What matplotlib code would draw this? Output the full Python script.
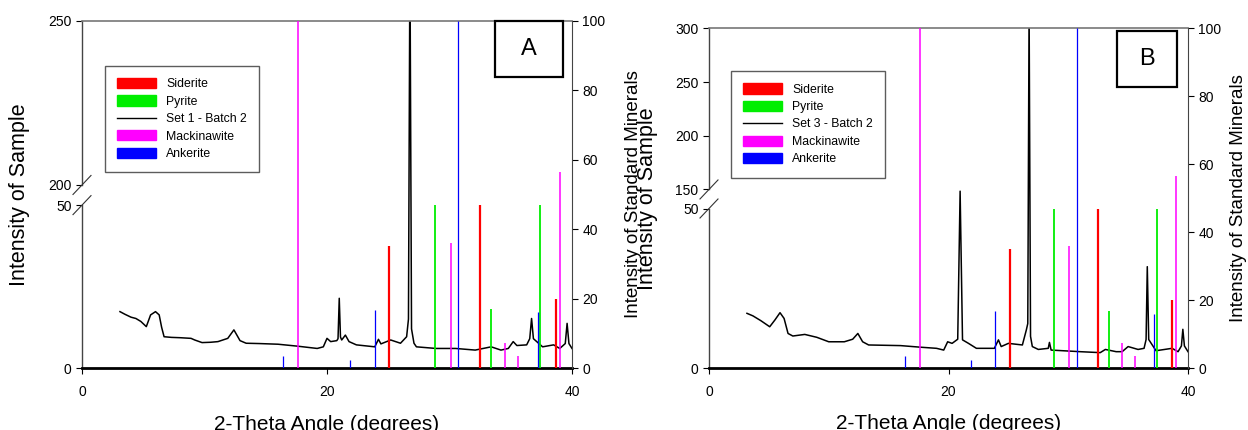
import numpy as np
import matplotlib.pyplot as plt
from matplotlib.patches import Patch, Rectangle
from matplotlib.lines import Line2D

plt.rcParams['font.family'] = ['Liberation Sans', 'DejaVu Sans']

# standard mineral reference peaks (2-theta, relative intensity)
siderite_x = [25.1, 32.5, 38.7]
siderite_y = [35, 47, 20]
pyrite_x = [28.8, 33.4, 37.4]
pyrite_y = [47, 17, 47]
mackinawite_x = [17.6, 30.1, 34.5, 35.6, 39.0]
mackinawite_y = [100, 36, 7.3, 3.5, 56.5]
ankerite_x = [16.4, 21.9, 23.9, 30.7, 37.2]
ankerite_y = [3.5, 2.3, 16.8, 100, 16.1]

# sample A: Set 1 - Batch 2
a_angle = [3.1, 3.5, 4.0, 4.4, 4.8, 5.25, 5.6, 6.0, 6.3, 6.5, 6.7, 7.3, 8.0, 8.9, 9.2,
           9.8, 10.5, 11.1, 11.9, 12.4, 12.9, 13.4, 14.5, 16.0, 17.6, 19.2, 19.7, 20.0,
           20.3, 20.8, 20.9, 21.0, 21.1, 21.2, 21.5, 21.8, 22.4, 23.9, 24.2, 24.4, 25.2,
           26.0, 26.5, 26.65, 26.77, 26.9, 27.1, 27.3, 28.9, 30.5, 32.1, 33.4, 34.2, 34.8,
           35.2, 35.5, 36.3, 36.55, 36.7, 36.85, 37.6, 38.5, 39.0, 39.45, 39.6, 39.75,
           40.0]
a_counts = [17.3, 16.5, 15.6, 15.2, 14.3, 12.7, 16.3, 17.3, 16.3, 12.5, 9.6, 9.4, 9.3,
            9.1, 8.6, 7.8, 7.9, 8.1, 9.1, 11.7, 8.4, 7.6, 7.5, 7.3, 6.7, 6.0, 6.5, 9.1,
            8.1, 8.4, 9.0, 21.4, 9.5, 8.6, 10.1, 8.1, 7.1, 6.5, 8.8, 7.4, 8.6, 7.6, 9.6,
            15, 270, 12, 7.6, 6.5, 6.0, 6.0, 5.5, 6.5, 5.5, 6.0, 8.1, 6.9, 7.1, 9.0, 15.2,
            9.0, 6.5, 7.1, 6.0, 7.5, 13.7, 7.5, 6.0]

# sample B: Set 3 - Batch 2
b_angle = [3.17, 3.67, 4.33, 5.07, 5.5, 5.93, 6.27, 6.6, 7.0, 8.0, 9.0, 10.0, 11.3,
           12.0, 12.43, 12.83, 13.33, 16.0, 17.67, 19.0, 19.6, 19.93, 20.3, 20.77,
           20.97, 21.17, 21.67, 22.33, 23.83, 24.17, 24.4, 25.0, 26.17, 26.5, 26.62,
           26.73, 26.85, 27.0, 27.5, 28.33, 28.43, 28.57, 31.0, 32.67, 33.1, 34.0, 34.5,
           35.0, 35.83, 36.33, 36.5, 36.6, 36.72, 37.33, 38.67, 39.17, 39.45, 39.57,
           39.7, 40.0]
b_counts = [17.2, 16.4, 14.9, 13.0, 15.1, 17.4, 15.6, 10.9, 10.1, 10.6, 9.7, 8.3, 8.3,
            9.1, 10.9, 8.3, 7.3, 7.1, 6.6, 6.25, 5.7, 8.3, 7.8, 9.1, 141, 8.9, 7.8,
            6.25, 6.25, 8.9, 6.8, 7.8, 7.3, 12.0, 14, 320, 10, 6.8, 5.9, 6.25, 8.1, 5.7,
            5.2, 4.9, 5.9, 5.2, 5.2, 6.8, 5.9, 6.25, 9.0, 31.8, 9.0, 5.5, 6.25, 5.2, 7.0,
            12.2, 7.0, 5.2]

W, H = 1248, 430
fig = plt.figure(figsize=(W / 100, H / 100), dpi=100)


def broken_funcs(top_lo, top_hi, f_lo, f_hi):
    xs = [0, 50, top_lo, top_hi]
    ys = [0, f_lo, f_hi, 1]
    s_low = f_lo / 50
    s_top = (1 - f_hi) / (top_hi - top_lo)

    def fwd(v):
        v = np.asarray(v, dtype=float)
        out = np.interp(v, xs, ys)
        out = np.where(v > top_hi, 1 + (v - top_hi) * s_top, out)
        return np.where(v < 0, v * s_low, out)

    def inv(u):
        u = np.asarray(u, dtype=float)
        out = np.interp(u, ys, xs)
        out = np.where(u > 1, top_hi + (u - 1) / s_top, out)
        return np.where(u < 0, u / s_low, out)

    return fwd, inv


def panel(px, sample_x, sample_y, name, letter, top_lo, top_hi, yticks, f_lo, f_hi,
          lab_left, lab_right, leg_xy, box):
    x0, x1, y0, y1 = px
    ax = fig.add_axes([x0 / W, 1 - y1 / H, (x1 - x0) / W, (y1 - y0) / H])
    fwd, inv = broken_funcs(top_lo, top_hi, f_lo, f_hi)
    ax.set_yscale('function', functions=(fwd, inv))
    ax.plot(sample_x, sample_y, color='black', lw=1.1)
    ax.set_xlim(0, 40)
    ax.set_ylim(0, top_hi)
    ax.set_xticks([0, 20, 40])
    ax.set_yticks(yticks)
    ax.yaxis.set_minor_locator(plt.NullLocator())
    ax.set_yticklabels([str(t) for t in yticks])
    ax.tick_params(direction='out', length=4, labelsize=10, colors='black', width=0.8)
    ax.tick_params(axis='x', pad=8)
    for s in ['left', 'top', 'right']:
        ax.spines[s].set_visible(False)
    ax.spines['bottom'].set_linewidth(2)
    ax.spines['bottom'].set_color('black')
    ax.axvline(0, 0, f_lo, color='#444444', lw=1, clip_on=False)
    ax.axvline(0, f_hi, 1, color='#444444', lw=1, clip_on=False)
    ax.axhline(top_hi, color='#777777', lw=1.2, clip_on=False)
    wpx, hpx = x1 - x0, y1 - y0
    dx, dy = 9 / wpx, 9.5 / hpx
    for f in (f_lo, f_hi):
        ax.plot([-dx, dx], [f - dy, f + dy], color='#333333', lw=0.8,
                transform=ax.transAxes, clip_on=False)
    ax.set_ylabel('Intensity of Sample', fontsize=15.5)
    ax.yaxis.set_label_coords(lab_left, 0.5)
    ax.set_xlabel('2-Theta Angle (degrees)', fontsize=15)
    ax.xaxis.set_label_coords(0.5, -0.135)

    ax2 = ax.twinx()
    ax2.set_ylim(0, 100)
    ax2.set_yticks([0, 20, 40, 60, 80, 100])
    ax2.vlines(siderite_x, 0, siderite_y, color='#ff0000', lw=1.6)
    ax2.vlines(pyrite_x, 0, pyrite_y, color='#00ee00', lw=1.3)
    ax2.vlines(mackinawite_x, 0, mackinawite_y, color='#ff00ff', lw=1.1)
    ax2.vlines(ankerite_x, 0, ankerite_y, color='#0000ff', lw=0.9)
    for s in ['left', 'top', 'bottom']:
        ax2.spines[s].set_visible(False)
    ax2.spines['right'].set_color('#444444')
    ax2.tick_params(direction='out', length=4, labelsize=10, width=0.8)
    ax2.set_ylabel('Intensity of Standard Minerals', fontsize=13.5)
    ax2.yaxis.set_label_coords(lab_right, 0.5)

    handles = [Patch(color='#ff0000'), Patch(color='#00ee00'),
               Line2D([], [], color='black', lw=1),
               Patch(color='#ff00ff'), Patch(color='#0000ff')]
    labels = ['Siderite', 'Pyrite', name, 'Mackinawite', 'Ankerite']
    leg = ax2.legend(handles, labels, loc='upper left', bbox_to_anchor=leg_xy,
                     fontsize=8.8, frameon=True, fancybox=False, edgecolor='#333333',
                     handlelength=3.2, handleheight=0.9, labelspacing=0.42,
                     borderpad=1.0, handletextpad=0.8, borderaxespad=0)
    leg.get_frame().set_linewidth(1)

    bx0, bx1, by0, by1 = box
    ax2.add_patch(Rectangle((bx0, by0), bx1 - bx0, by1 - by0, transform=ax2.transAxes,
                            fill=True, facecolor='white', edgecolor='black', lw=1.6,
                            clip_on=False, zorder=5))
    ax2.text((bx0 + bx1) / 2, (by0 + by1) / 2, letter, transform=ax2.transAxes,
             ha='center', va='center', fontsize=17, zorder=6)


panel((82, 572, 20.7, 368), a_angle, a_counts, 'Set 1 - Batch 2', 'A', 200, 250,
      [0, 50, 200, 250], 0.469, 0.527, -0.106, 1.108, (0.047, 0.87),
      (0.843, 0.982, 0.838, 0.999))
panel((709, 1188, 28.3, 368.3), b_angle, b_counts, 'Set 3 - Batch 2', 'B', 150, 300,
      [0, 50, 150, 200, 250, 300], 0.47, 0.526, -0.106, 1.088, (0.046, 0.874),
      (0.852, 0.977, 0.827, 0.993))

fig.savefig('out.png', dpi=100)
